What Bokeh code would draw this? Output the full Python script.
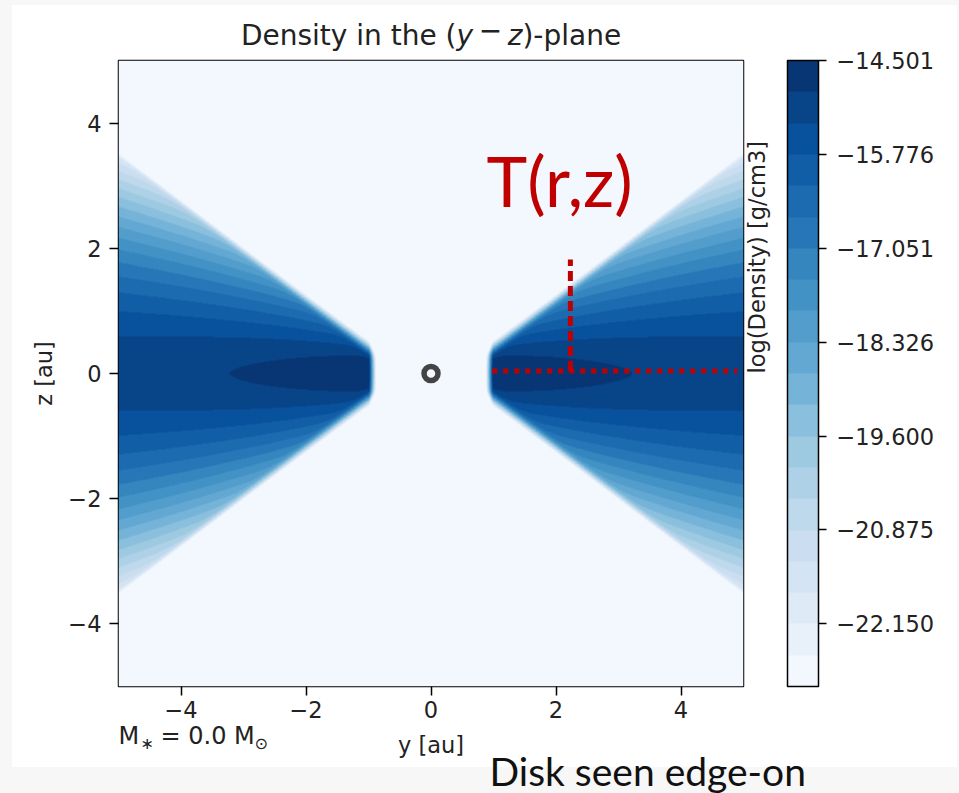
import numpy as np
from bokeh.plotting import figure
from bokeh.models import Range1d, LinearColorMapper, ColorBar, FixedTicker, Label, LinearAxis
from bokeh.palettes import Blues256
from bokeh.embed import file_html
from bokeh.resources import INLINE

# ---------------- data ----------------
x_ticks = [-4, -2, 0, 2, 4]
x_tick_labels = ["\u22124", "\u22122", "0", "2", "4"]
y_ticks = [-4, -2, 0, 2, 4]
y_tick_labels = ["\u22124", "\u22122", "0", "2", "4"]

cb_ticks = [-22.150, -20.875, -19.600, -18.326, -17.051, -15.776, -14.501]
cb_tick_labels = ["\u221222.150", "\u221220.875", "\u221219.600", "\u221218.326",
                  "\u221217.051", "\u221215.776", "\u221214.501"]
level_min = -23.0
level_max = -14.501
n_levels = 20

# disk density model (parameters estimated from the contour bands)
rim_logrho = -14.50      # midplane log-density at the inner rim (1 au)
radial_slope = 0.837     # drop of midplane log-density per dex of radius
rim_radius = 1.0         # au, inner hole radius
height_5au = 1.22        # au, vertical scale at 5 au
flare_index = 0.62       # scale ~ r**flare_index
vert_power = 1.8         # vertical profile exponent
cone_slope = 0.80        # upper envelope of the disk: z = slope*r + offset
cone_offset = -0.50
cone_rate = 32.0         # decades per au beyond the envelope
rim_sharpness = 0.006    # au per e-fold at the inner rim

star_y = [0.0]
star_z = [0.0]

probe_y = [2.23]
probe_z0 = [0.04]
probe_z1 = [1.82]
ray_y0 = [0.98]
ray_y1 = [4.90]
ray_z = [0.04]

# ---------------- density field ----------------
N = 626
yy = np.linspace(-5, 5, N)
zz = np.linspace(-5, 5, N)
Y, Z = np.meshgrid(yy, zz)
R = np.abs(Y)
AZ = np.abs(Z)
Rs = np.maximum(R, rim_radius)
Hz = height_5au * (Rs / 5.0) ** flare_index
logrho = rim_logrho - radial_slope * np.log10(Rs) - (AZ / Hz) ** vert_power
zc = cone_slope * Rs + cone_offset
w = 0.03
logrho = logrho - cone_rate * w * np.logaddexp(0, (AZ - zc) / w)
logrho = logrho - np.clip(rim_radius - R, 0, None) / rim_sharpness * 0.4343
logrho = np.clip(logrho, level_min, level_max).astype(np.float32)

palette = [Blues256[255 - int(round((i + 0.5) / n_levels * 255))] for i in range(n_levels)]
mapper = LinearColorMapper(palette=palette, low=level_min, high=level_max)

# ---------------- figure ----------------
p = figure(width=959, height=793, x_range=Range1d(-5, 5), y_range=Range1d(-5, 5),
           output_backend="svg", toolbar_location=None,
           min_border_left=118, min_border_right=216, min_border_top=60, min_border_bottom=107)
p.styles = {"background": "linear-gradient(#ffffff, #ffffff) 12px 5px / 945px 762px no-repeat, #f7f7f7"}
p.border_fill_alpha = 0
p.background_fill_color = palette[0]
p.outline_line_color = "black"
p.outline_line_width = 1.5
p.outline_line_alpha = 1
p.grid.visible = False

p.image(image=[logrho], x=-5, y=-5, dw=10, dh=10, color_mapper=mapper)

p.scatter(star_y, star_z, marker="circle", size=14, fill_color=None,
          line_color="#444444", line_width=5.5)

p.segment(x0=ray_y0, y0=ray_z, x1=ray_y1, y1=ray_z, line_color="#c00000",
          line_width=5, line_dash="5 6")
p.segment(x0=probe_y, y0=probe_z0, x1=probe_y, y1=probe_z1, line_color="#c00000",
          line_width=5, line_dash="10 5")

for ax, ticks, labels in ((p.xaxis, x_ticks, x_tick_labels), (p.yaxis, y_ticks, y_tick_labels)):
    ax.ticker = FixedTicker(ticks=ticks)
    ax.major_label_overrides = dict(zip(ticks, labels))
    ax.axis_line_color = None
    ax.major_tick_line_color = "black"
    ax.major_tick_line_width = 1.5
    ax.major_tick_in = 0
    ax.major_tick_out = 9
    ax.minor_tick_line_color = None
    ax.major_label_text_font = "DejaVu Sans"
    ax.major_label_text_font_size = "22.5px"
    ax.major_label_text_color = "#222222"
    ax.axis_label_text_font = "DejaVu Sans"
    ax.axis_label_text_font_size = "22.5px"
    ax.axis_label_text_font_style = "normal"
    ax.axis_label_text_color = "#222222"
p.xaxis.major_label_standoff = 5
p.yaxis.major_label_standoff = 8
p.xaxis.axis_label = "y [au]"
p.yaxis.axis_label = "z [au]"
p.xaxis.axis_label_standoff = 11
p.yaxis.axis_label_standoff = 8

# colour bar label as a tick-less axis on the right of the frame
cb_axis = LinearAxis(axis_label="log(Density) [g/cm3]", ticker=FixedTicker(ticks=[]),
                     axis_line_color=None, major_tick_line_color=None,
                     minor_tick_line_color=None, axis_label_standoff=13,
                     axis_label_text_font="DejaVu Sans", axis_label_text_font_size="22.5px",
                     axis_label_text_font_style="normal", axis_label_text_color="#222222")
try:
    cb_axis.axis_label_orientation = np.pi / 2
except Exception:
    pass
p.add_layout(cb_axis, "right")

cb = ColorBar(color_mapper=mapper, ticker=FixedTicker(ticks=cb_ticks),
              major_label_overrides=dict(zip(cb_ticks, cb_tick_labels)),
              width=31, height=626, location=(669, 0), padding=0, margin=0,
              orientation="vertical", bar_line_color="black", bar_line_width=1.5,
              major_tick_line_color="black", major_tick_line_width=1.5,
              major_tick_in=0, major_tick_out=8, minor_tick_line_color=None,
              label_standoff=10, major_label_text_font="DejaVu Sans",
              major_label_text_font_size="22.5px", major_label_text_color="#222222",
              background_fill_alpha=0, border_line_color=None)
p.add_layout(cb)

FL, FB = 118, 686  # frame left / bottom in canvas pixels
BASE_SHIFT = 0.39  # em, measured offset of bokeh's alphabetic anchor


def frame_text(text, cx, cy, size, font="DejaVu Sans", color="#222222"):
    # text inside the frame; (cx, cy) = wanted baseline start in canvas pixels
    cy = cy - BASE_SHIFT * size
    p.add_layout(Label(x=cx - FL, y=FB - cy, x_units="screen", y_units="screen", text=text,
                       text_font=font, text_font_size=f"{size}px", text_color=color,
                       text_align="left", text_baseline="alphabetic"))


blank_mapper = LinearColorMapper(palette=["#ffffff", "#ffffff"], low=0, high=1)


def outside_text(text, left, baseline, size, font="DejaVu Sans", color="#222222",
                 style="normal", descent=0.236):
    # text outside the frame, carried by the title of an invisible colour bar
    bottom = baseline + descent * size
    p.add_layout(ColorBar(color_mapper=blank_mapper, ticker=FixedTicker(ticks=[]),
                          orientation="horizontal", width=1, height=1,
                          location=(left - FL, FB - bottom - 1),
                          padding=0, margin=0, title=text, title_standoff=0,
                          title_text_font=font, title_text_font_size=f"{size}px",
                          title_text_color=color, title_text_font_style=style,
                          title_text_align="left", title_text_baseline="bottom",
                          scale_alpha=0, bar_line_color=None, major_tick_line_color=None,
                          minor_tick_line_color=None, major_label_text_alpha=0,
                          major_tick_out=0, major_tick_in=0, label_standoff=0,
                          background_fill_alpha=0, border_line_color=None))


# title: "Density in the (y − z)-plane" with italic y and z
ts = 28.0
wA = 7.699 * ts
wy = 0.592 * ts
gap = 0.2 * ts
wm = 0.838 * ts
wz = 0.525 * ts
wB = 3.526 * ts
W = wA + wy + gap + wm + gap + wz + wB
x0 = 430.5 - W / 2
tb = 45
outside_text("Density in the (", x0, tb, ts)
outside_text("y", x0 + wA, tb, ts, style="italic")
outside_text("\u2212", x0 + wA + wy + gap, tb, ts, descent=-0.19)
outside_text("z", x0 + wA + wy + gap + wm + gap, tb, ts, style="italic")
outside_text(")-plane", x0 + wA + wy + gap + wm + gap + wz, tb, ts)

# stellar mass note
outside_text("M", 118, 744, 24)
outside_text("\u2217", 140, 749, 16)
outside_text("= 0.0 M", 160, 744, 24)
outside_text("\u2299", 254, 749, 16)

# slide annotations
frame_text("T(r,z)", 486, 207, 69, font="Lato", color="#c00000")
outside_text("Disk seen edge-on", 489, 785, 39, font="Lato", color="#111111", descent=0.213)

open("out.html", "w").write(file_html(p, INLINE))
